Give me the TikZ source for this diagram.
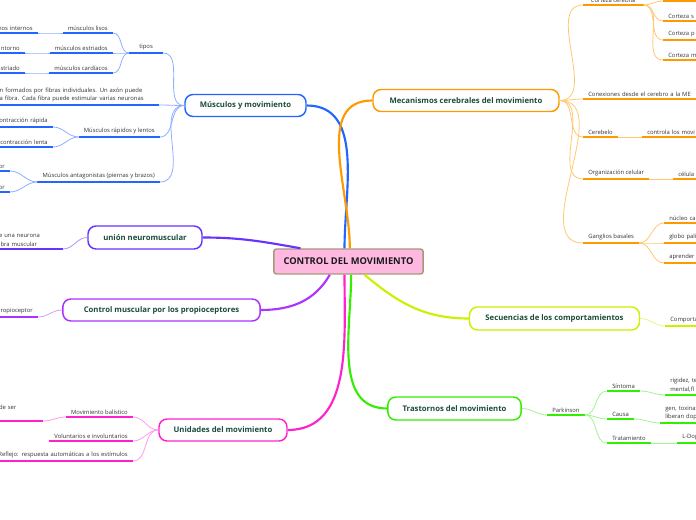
\documentclass[tikz,border=0pt]{standalone}
\usepackage{fontspec}
\setmainfont{Open Sans}
\usepackage{xcolor}
\usepackage{tikz}
\usetikzlibrary{positioning}

\definecolor{mblue}{HTML}{2266FF}
\definecolor{lblue}{HTML}{8FAEFF}
\definecolor{morg}{HTML}{FF9900}
\definecolor{lorg}{HTML}{FFC870}
\definecolor{mind}{HTML}{6633FF}
\definecolor{lind}{HTML}{AC94FF}
\definecolor{mpur}{HTML}{AA33FF}
\definecolor{lpur}{HTML}{D69CFF}
\definecolor{mmag}{HTML}{FF22CC}
\definecolor{lmag}{HTML}{FF9CE8}
\definecolor{mgrn}{HTML}{33EE00}
\definecolor{lgrn}{HTML}{A0F590}
\definecolor{mlim}{HTML}{CCF000}
\definecolor{llim}{HTML}{E4F884}
\definecolor{ctrfill}{HTML}{FFB9E0}
\definecolor{ctredge}{HTML}{A8987A}
\definecolor{txtgreen}{HTML}{1B4B3C}

\newcommand\fs{\fontsize{4.4pt}{6.4pt}\selectfont}
\newcommand\fm{\bfseries\fontsize{5.8pt}{7pt}\selectfont}
\newcommand\fc{\bfseries\fontsize{7pt}{8pt}\selectfont}

\begin{document}
\begin{tikzpicture}[
    x=0.75pt, y=-0.75pt,
    lf/.style={
        font=\fs,
        text=black!80,
        inner xsep=3.75pt,
        inner ysep=2pt,
        align=left,
        append after command={(\tikzlastnode.south west) edge[draw=#1, line width=1.5pt] (\tikzlastnode.south east)}
    },
    cutr/.style={text width=#1, align=left},
    cutl/.style={text width=#1, align=right},
    mainbox/.style={
        draw=#1,
        line width=1.1pt,
        fill=white,
        rounded corners=6pt,
        font=\fm,
        text=txtgreen,
        minimum height=16.5pt
    },
    con/.style={draw=#1, line width=0.6pt},
    br/.style={draw=#1, line width=1.6pt},
    lt/.style={out=180, in=0},
    rt/.style={out=0, in=180}
]
\useasboundingbox (0,0) rectangle (696,520);
\clip (0,0) rectangle (696,520);

% centre and main topics
\node[draw=ctredge, line width=1.1pt, fill=ctrfill, rounded corners=2pt,
      font=\fc, text=black!90, minimum width=112pt, minimum height=18.75pt] (ctr) at (348.5,261.5) {CONTROL DEL MOVIMIENTO};

\node[mainbox=mblue, minimum width=90.75pt] (mus) at (245.5,105.5) {Músculos y movimiento};
\node[mainbox=morg, minimum width=139.5pt] (mec) at (466,100.5) {Mecanismos cerebrales del movimiento};
\node[mainbox=mind, minimum width=85.5pt, minimum height=17.25pt] (uni) at (145,237.5) {unión neuromuscular};
\node[mainbox=mpur, minimum width=148pt] (ctl) at (161.5,310) {Control muscular por los propioceptores};
\node[mainbox=mlim, minimum width=127.5pt, minimum height=17.25pt] (sec) at (554.5,318.5) {Secuencias de los comportamientos};
\node[mainbox=mgrn, minimum width=100pt, minimum height=17.25pt] (tra) at (454.5,408.5) {Trastornos del movimiento};
\node[mainbox=mmag, minimum width=96pt] (und) at (223,430) {Unidades del movimiento};

\draw[br=mblue] ([xshift=-3pt]ctr.north) to[out=90, in=0] (mus.east);
\draw[br=morg] ([xshift=1pt]ctr.north) to[out=90, in=180] (mec.west);
\draw[br=mind] ([xshift=-36pt]ctr.north) to[out=170, in=0] (uni.east);
\draw[br=mpur] ([xshift=-14pt]ctr.south) to[out=240, in=0] (ctl.east);
\draw[br=mmag] ([xshift=-3pt]ctr.south) to[out=270, in=0] (und.east);
\draw[br=mgrn] ([xshift=2pt]ctr.south) to[out=270, in=180] (tra.west);
\draw[br=mlim] ([xshift=12pt]ctr.south) to[out=-40, in=180] (sec.west);

% Músculos y movimiento
\node[lf=mblue, anchor=south east, minimum width=25pt] (tipos) at (163,53) {tipos};
\node[lf=mblue, anchor=south east] (lisos) at (113,33) {músculos lisos};
\node[lf=mblue, anchor=south east] (estr) at (113,53) {músculos estriados};
\node[lf=mblue, anchor=south east] (card) at (113,73) {músculos cardíacos};
\node[lf=mblue, anchor=south east, cutl=40pt] (lis0) at (38,33) {nos internos};
\node[lf=mblue, anchor=south east, cutl=30pt] (est0) at (25,53) {ntorno};
\node[lf=mblue, anchor=south east, cutl=30pt] (car0) at (25,73) {striado};
\node[lf=mblue, anchor=south east, cutr=115.5pt] (fib) at (159,105)
{n formados por fibras individuales. Un axón puede\\a fibra. Cada fibra puede estimular varias neuronas};
\node[lf=mblue, anchor=south east] (rap) at (160,137) {Músculos rápidos y lentos};
\node[lf=mblue, anchor=south east, cutl=50pt] (rap1) at (53,127) {ontracción rápida};
\node[lf=mblue, anchor=south east, cutl=50pt] (rap2) at (53,147) {contracción lenta};
\node[lf=mblue, anchor=south east] (ant) at (160,182) {Músculos antagonistas (piernas y brazos)};
\node[lf=mblue, anchor=south east, cutl=15pt] (ant1) at (10,171) {or};
\node[lf=mblue, anchor=south east, cutl=15pt] (ant2) at (10,192) {or};

\draw[con=lblue] (mus.west) to[lt] (tipos.south east);
\draw[con=lblue] (mus.west) to[lt] (fib.south east);
\draw[con=lblue] (mus.west) to[lt] (rap.south east);
\draw[con=lblue] (mus.west) to[lt] (ant.south east);
\draw[con=lblue] (tipos.south west) to[lt] (lisos.south east);
\draw[con=lblue] (tipos.south west) to[lt] (estr.south east);
\draw[con=lblue] (tipos.south west) to[lt] (card.south east);
\draw[con=lblue] (lisos.south west) to[lt] (lis0.south east);
\draw[con=lblue] (estr.south west) to[lt] (est0.south east);
\draw[con=lblue] (card.south west) to[lt] (car0.south east);
\draw[con=lblue] (rap.south west) to[lt] (rap1.south east);
\draw[con=lblue] (rap.south west) to[lt] (rap2.south east);
\draw[con=lblue] (ant.south west) to[lt] (ant1.south east);
\draw[con=lblue] (ant.south west) to[lt] (ant2.south east);

% unión neuromuscular / propioceptores
\node[lf=mind, anchor=south east, cutr=44pt] (neu) at (63,249) {e una neurona\\ibra muscular};
\draw[con=lind] (uni.west) to[lt] (neu.south east);
\node[lf=mpur, anchor=south east, cutl=40pt] (pro) at (38,317) {ropioceptor};
\draw[con=lpur] (ctl.west) to[lt] (pro.south east);

% Unidades del movimiento
\node[lf=mmag, anchor=south east] (bal) at (133,417) {Movimiento balístico};
\node[lf=mmag, anchor=south east, cutr=29pt] (bal0) at (43,421) {de ser\\\mbox{}};
\node[lf=mmag, anchor=south east] (vol) at (133,441) {Voluntarios e involuntarios};
\node[lf=mmag, anchor=south east, cutl=110pt] (ref) at (133,461) {Reflejo: respuesta automáticas a los estímulos};
\draw[con=lmag] (und.west) to[lt] (bal.south east);
\draw[con=lmag] (und.west) to[lt] (vol.south east);
\draw[con=lmag] (und.west) to[lt] (ref.south east);
\draw[con=lmag] (bal.south west) to[lt] (bal0.south east);

% Mecanismos cerebrales
\node[lf=morg, anchor=south west, minimum width=45pt] (corc) at (583,5) {Corteza cerebral};
\node[lf=morg, anchor=south west, minimum width=40pt] (cor0) at (663,1) {};
\node[lf=morg, anchor=south west, cutr=30pt] (cors) at (663,21) {Corteza s};
\node[lf=morg, anchor=south west, cutr=30pt] (corp) at (663,40) {Corteza p};
\node[lf=morg, anchor=south west, cutr=30pt] (corm) at (663,60) {Corteza m};
\node[lf=morg, anchor=south west, cutr=80pt] (conx) at (583,99) {Conexiones desde el cerebro a la ME};
\node[lf=morg, anchor=south west] (cbl) at (583,137) {Cerebelo};
\node[lf=morg, anchor=south west, cutr=45pt] (cbl1) at (642,137) {controla los movi};
\node[lf=morg, anchor=south west] (orgc) at (583,179) {Organización celular};
\node[lf=morg, anchor=south west, cutr=20pt] (orgc1) at (673,179) {célula};
\node[lf=morg, anchor=south west] (gan) at (583,243) {Ganglios basales};
\node[lf=morg, anchor=south west, cutr=30pt] (gan1) at (664,223) {núcleo ca};
\node[lf=morg, anchor=south west, cutr=30pt] (gan2) at (664,243) {globo pali};
\node[lf=morg, anchor=south west, cutr=30pt] (gan3) at (664,263) {aprender};

\draw[con=lorg] (mec.east) to[rt] (corc.south west);
\draw[con=lorg] (mec.east) to[rt] (conx.south west);
\draw[con=lorg] (mec.east) to[rt] (cbl.south west);
\draw[con=lorg] (mec.east) to[rt] (orgc.south west);
\draw[con=lorg] (mec.east) to[rt] (gan.south west);
\draw[con=lorg] (corc.south east) to[rt] (cor0.south west);
\draw[con=lorg] (corc.south east) to[rt] (cors.south west);
\draw[con=lorg] (corc.south east) to[rt] (corp.south west);
\draw[con=lorg] (corc.south east) to[rt] (corm.south west);
\draw[con=lorg] (cbl.south east) -- (cbl1.south west);
\draw[con=lorg] (orgc.south east) -- (orgc1.south west);
\draw[con=lorg] (gan.south east) to[rt] (gan1.south west);
\draw[con=lorg] (gan.south east) to[rt] (gan2.south west);
\draw[con=lorg] (gan.south east) to[rt] (gan3.south west);

% Secuencias
\node[lf=mlim, anchor=south west, cutr=30pt] (com) at (665,326) {Comporta};
\draw[con=llim] (sec.east) to[rt] (com.south west);

% Trastornos del movimiento
\node[lf=mgrn, anchor=south west] (par) at (547,415) {Parkinson};
\node[lf=mgrn, anchor=south west] (sin) at (607,391) {Síntoma};
\node[lf=mgrn, anchor=south west, cutr=30pt] (sin1) at (665,395) {rigidez, te\\mental,fl};
\node[lf=mgrn, anchor=south west] (cau) at (607,419) {Causa};
\node[lf=mgrn, anchor=south west, cutr=35pt] (cau1) at (660,423) {gen, toxinas\\liberan dopa};
\node[lf=mgrn, anchor=south west] (trt) at (607,443) {Tratamiento};
\node[lf=mgrn, anchor=south west, cutr=25pt] (trt1) at (677,443) {L-Dop};

\draw[con=lgrn] (tra.east) to[rt] (par.south west);
\draw[con=lgrn] (par.south east) to[rt] (sin.south west);
\draw[con=lgrn] (par.south east) to[rt] (cau.south west);
\draw[con=lgrn] (par.south east) to[rt] (trt.south west);
\draw[con=lgrn] (sin.south east) to[rt] (sin1.south west);
\draw[con=lgrn] (cau.south east) to[rt] (cau1.south west);
\draw[con=lgrn] (trt.south east) -- (trt1.south west);

\end{tikzpicture}
\end{document}
